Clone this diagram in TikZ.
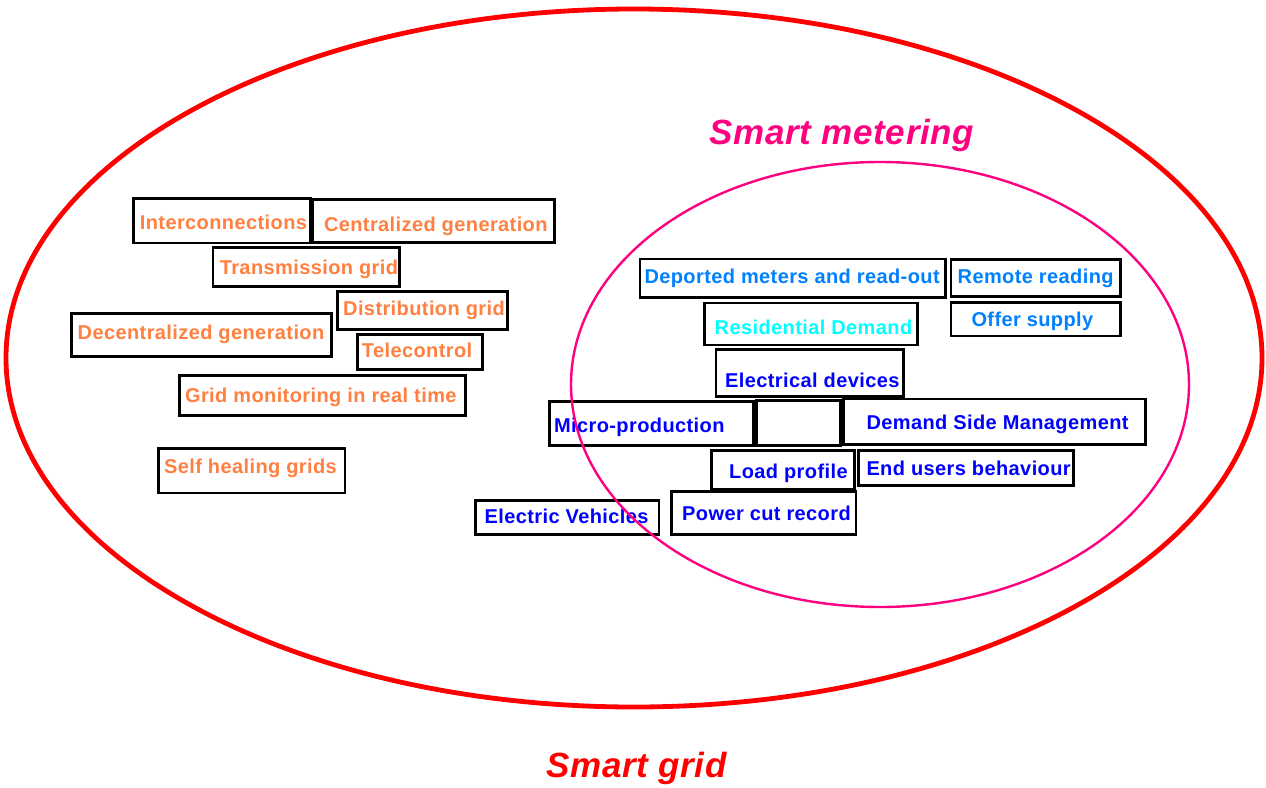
\documentclass[tikz,border=0pt]{standalone}
\usepackage{fontspec}
\setmainfont{Liberation Sans}
\newfontfamily\boxfont[LetterSpace=2]{Liberation Sans}
\newfontfamily\titlefont[LetterSpace=2]{Liberation Sans}
\usetikzlibrary{calc}
\definecolor{orng}{RGB}{255,128,64}
\definecolor{lblue}{RGB}{0,128,255}
\definecolor{cyanc}{RGB}{0,255,255}
\definecolor{dblue}{RGB}{0,0,255}
\definecolor{pinkc}{RGB}{255,0,128}
\definecolor{redc}{RGB}{255,0,0}
\newcommand\tbox[4]{\draw[boxline] ($(#1,#2)+(1.4,1.4)$) rectangle ($(#3,#4)-(1.4,1.4)$);}
\begin{document}
\begin{tikzpicture}[x=1pt,y=-1pt,
  boxline/.style={draw=black, line width=2.8pt},
  lbl/.style={inner sep=0pt, anchor=base west, font=\boxfont\bfseries\fontsize{20}{24}\selectfont},
  og/.style={lbl, text=orng},
  lb/.style={lbl, text=lblue},
  cy/.style={lbl, text=cyanc},
  db/.style={lbl, text=dblue},
  ttl/.style={inner sep=0pt, anchor=base west, font=\titlefont\bfseries\itshape\fontsize{35}{42}\selectfont}]
\useasboundingbox (0,0) rectangle (1266,787);
\fill[white] (0,0) rectangle (1266,787);

% boxes
\tbox{132.4}{196.7}{311.6}{244.4}
\tbox{311.6}{198}{555.5}{244}
\tbox{211.5}{246}{401}{287.6}
\tbox{336}{290}{508.6}{331}
\tbox{70}{312}{333}{358}
\tbox{356}{333}{484}{371}
\tbox{178.4}{374}{466.7}{416.6}
\tbox{157.4}{446.7}{346.4}{494.4}
\tbox{638.6}{257.5}{947}{298.6}
\tbox{949.5}{258}{1122}{297.6}
\tbox{949.5}{301}{1122}{337.3}
\tbox{703}{301.6}{918.8}{346.3}
\tbox{714.5}{348.3}{905}{397.5}
\tbox{548}{400}{755}{446.7}
\tbox{755}{399}{842}{446.7}
\tbox{842}{397.5}{1147}{445.7}
\tbox{709.7}{448.7}{855.8}{490.4}
\tbox{857.4}{449}{1074.6}{487}
\tbox{670}{490.4}{857.4}{536}
\tbox{474}{499.4}{660.4}{536}

% texts
\node[og] (t1) at (139.7,229) {Interconnections};
\node[og] (t2) at (323.8,231) {Centralized generation};
\node[og] (t3) at (219.6,274) {Transmission grid};
\node[og] (t4) at (343,315) {Distribution grid};
\node[og] (t5) at (77.5,339) {Decentralized generation};
\node[og] (t6) at (361.7,357) {Telecontrol};
\node[og] (t7) at (184.9,402) {Grid monitoring in real time};
\node[og] (t8) at (163.9,473.5) {Self healing grids};
\node[lb] (t9) at (644.3,283.5) {Deported meters and read-out};
\node[lb] (t10) at (957.5,283.5) {Remote reading};
\node[lb] (t11) at (971.3,326.5) {Offer supply};
\node[cy] (t12) at (714.5,334.5) {Residential Demand};
\node[db] (t13) at (725,387) {Electrical devices};
\node[db] (t14) at (553.9,432) {Micro-production};
\node[db] (t15) at (866.3,429) {Demand Side Management};
\node[db] (t16) at (729,478.5) {Load profile};
\node[db] (t17) at (866.3,475.5) {End users behaviour};
\node[db] (t18) at (682,520.5) {Power cut record};
\node[db] (t19) at (484.4,523.5) {Electric Vehicles};

% ellipses
\draw[redc, line width=4.8pt] (634,358) ellipse [x radius=628pt, y radius=349pt];
\draw[pinkc, line width=2.4pt] (880,384.5) ellipse [x radius=309pt, y radius=222.5pt];

% titles
\node[ttl, text=pinkc] (sm) at (709,144) {Smart metering};
\node[ttl, text=redc] (sg) at (546,777) {Smart grid};
\end{tikzpicture}
\end{document}
